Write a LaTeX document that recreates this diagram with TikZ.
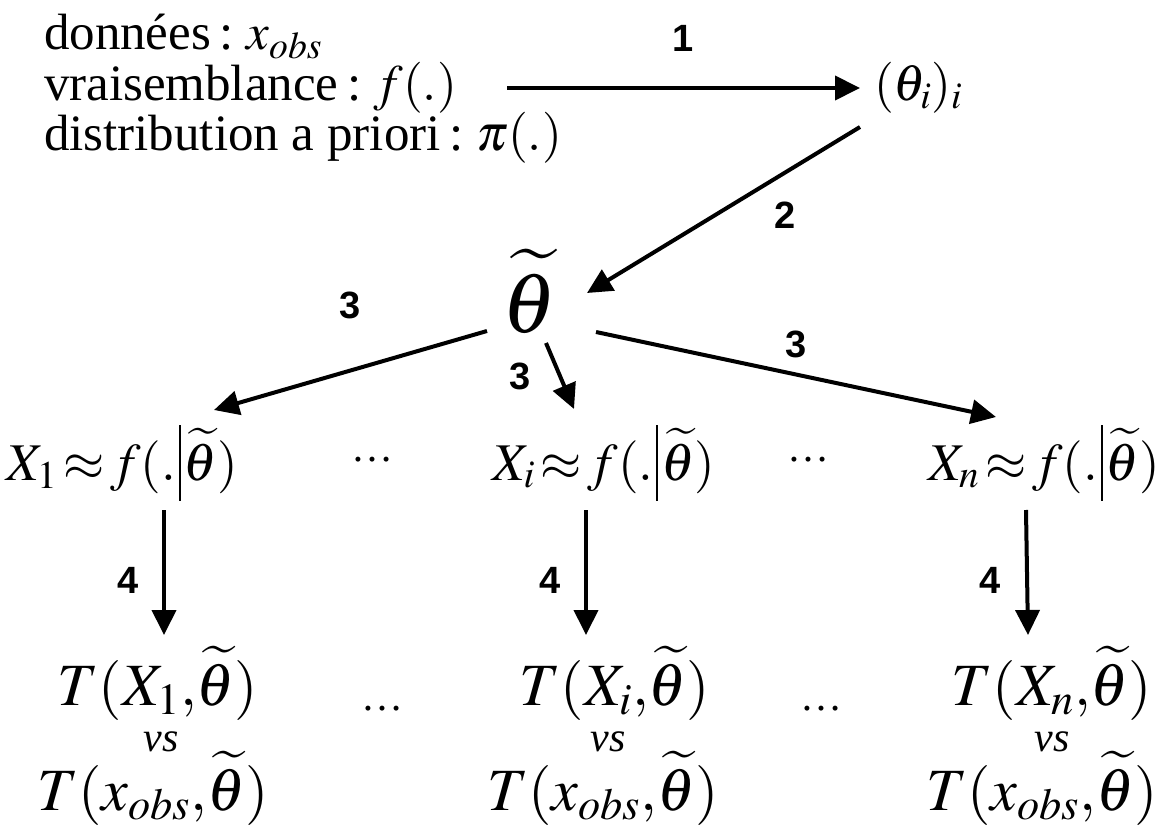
\documentclass[tikz,border=0pt]{standalone}
\usepackage{mathptmx}
\usepackage{fontspec}
\setmainfont{Liberation Serif}
\newfontfamily\arialfont{Liberation Sans}
\usepackage{tikz}
\usetikzlibrary{arrows.meta,calc}
\newcommand{\thtilde}{\widetilde{\theta}}
\newcommand{\sachant}{\mkern1mu\vrule height 1.04em depth 0.39em width 0.035em\mkern1mu}
\newcommand{\aprox}{\mathrel{\mkern-2mu\approx\mkern-2mu}}

\begin{document}
\begin{tikzpicture}
    [x=1pt, y=-1pt, line width=4pt, >={Triangle[length=25pt,width=24pt]},
     every node/.style={inner sep=0pt},
     given/.style={font=\fontsize{51}{50}\selectfont, text height=0.75em, text depth=0.24em},
     lawrow/.style={font=\fontsize{53}{60}\selectfont},
     statrow/.style={font=\fontsize{60}{70}\selectfont},
     vsrow/.style={font=\fontsize{42}{42}\selectfont\itshape},
     dotsrow/.style={font=\fontsize{42}{42}\selectfont},
     numlbl/.style={font=\arialfont\bfseries\fontsize{38}{40}\selectfont}]
    \useasboundingbox (0,0) rectangle (1160,832);
    % inputs
    \node[given, anchor=base west] (data) at (42,50) {données\,:\ $x_{obs}$};
    \node[given, anchor=base west] (lik) at (42,101) {vraisemblance\,:\ $f(.)$};
    \node[given, anchor=base west] (prior) at (42,151) {distribution a priori\,:\ $\pi(.)$};
    \node[given, anchor=base west] (thetas) at (872,101) {$(\theta_i)_i$};
    \node[font=\fontsize{85}{90}\selectfont, anchor=base] (tt) at (530,332) {$\thtilde$};
    % simulated data
    \node[lawrow, anchor=base] (x1) at (122,480) {$X_1\aprox f(.\sachant\thtilde)$};
    \node[dotsrow, anchor=base] (d1) at (372,461) {\ldots};
    \node[lawrow, anchor=base] (xi) at (604,480) {$X_i\aprox f(.\sachant\thtilde)$};
    \node[dotsrow, anchor=base] (d2) at (808,461) {\ldots};
    \node[lawrow, anchor=base] (xn) at (1044,480) {$X_n\aprox f(.\sachant\thtilde)$};
    % statistics
    \node[statrow, anchor=base] (t1) at (158,705) {$T(X_1{,}\thtilde)$};
    \node[vsrow, anchor=base] (v1) at (161,751) {vs};
    \node[statrow, anchor=base] (o1) at (153,810) {$T(x_{obs}{,}\thtilde)$};
    \node[dotsrow, anchor=base] (d3) at (382,710) {\ldots};
    \node[statrow, anchor=base] (ti) at (615,705) {$T(X_i{,}\thtilde)$};
    \node[vsrow, anchor=base] (vi) at (608,751) {vs};
    \node[statrow, anchor=base] (oi) at (603,810) {$T(x_{obs}{,}\thtilde)$};
    \node[dotsrow, anchor=base] (d4) at (821,710) {\ldots};
    \node[statrow, anchor=base] (tn) at (1052,705) {$T(X_n{,}\thtilde)$};
    \node[vsrow, anchor=base] (vn) at (1052,751) {vs};
    \node[statrow, anchor=base] (on) at (1042,810) {$T(x_{obs}{,}\thtilde)$};
    % steps
    \draw[->] ([shift={(465,-13)}]lik.base west) -- node[numlbl, yshift=50pt] {1} ([shift={(-12,-13)}]thetas.base west);
    \draw[->] ([shift={(-12,26)}]thetas.base west) -- node[numlbl, xshift=62pt, yshift=-5pt] {2} ([shift={(57,-39)}]tt.base);
    \draw[->] ([shift={(-43,-1)}]tt.base) -- node[numlbl, yshift=65pt] {3} ([shift={(92,-70)}]x1.base);
    \draw[->] ([shift={(16,11)}]tt.base) -- node[numlbl, xshift=-40pt] {3} ([shift={(-30,-71)}]xi.base);
    \draw[->] ([shift={(66,0)}]tt.base) -- node[numlbl, yshift=30pt] {3} ([shift={(-48,-63)}]xn.base);
    \draw[->] ([shift={(42,30)}]x1.base) -- node[numlbl, xshift=-36pt, yshift=-8pt] {4} ([shift={(6,-70)}]t1.base);
    \draw[->] ([shift={(-18,30)}]xi.base) -- node[numlbl, xshift=-36pt, yshift=-8pt] {4} ([shift={(-29,-70)}]ti.base);
    \draw[->] ([shift={(-18,30)}]xn.base) -- node[numlbl, xshift=-37pt, yshift=-8pt] {4} ([shift={(-24,-70)}]tn.base);
\end{tikzpicture}
\end{document}
